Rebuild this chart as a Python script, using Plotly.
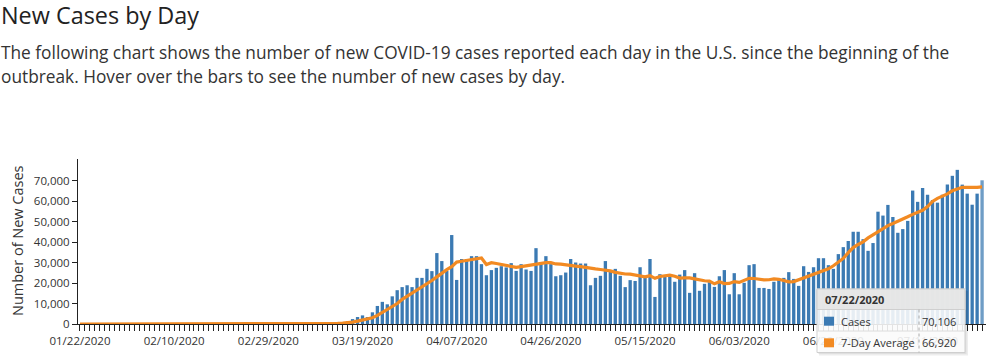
import pandas as pd
import plotly.graph_objects as go

START_DATE = "2020-01-22"
N_DAYS = 183

# Daily new cases (01/22/2020 .. 07/22/2020)
cases = [
    0, 0, 1, 0, 3, 0, 0, 0, 0, 2, 1, 0, 3, 0, 0, 0, 0, 0, 0, 0,
    1, 0, 1, 0, 0, 0, 0, 0, 0, 0, 0, 0, 0, 1, 0, 0, 1, 3, 5,
    8, 20, 25, 30, 60, 70, 100, 120, 160, 250, 310, 420, 530, 700, 900, 1300,
    2400, 3400, 4200, 3400, 5700, 8800, 10800, 9600, 13500, 16500, 18000, 18900, 18000, 22500, 22500,
    26900, 25800, 34600, 30700, 25900, 43400, 21500, 31700, 31700, 33100, 33100, 29200, 23800, 26300, 27400,
    28200, 27600, 29700, 25900, 29200, 26600, 25900, 37000, 29900, 33100, 29200, 23300, 23800, 25100, 31700,
    30000, 29500, 29500, 18900, 22500, 23500, 30700, 25400, 26900, 23500, 18000, 21400, 21000, 27700, 22500,
    31700, 13200, 24300, 23200,
    23300, 20600, 24100, 26300, 15200, 24800, 16200, 19600, 20400, 18100, 23300, 26300, 14500, 24800, 14500,
    20100, 28700, 29200, 17600, 17600, 17100, 20600, 22000, 22500, 25300, 22000, 18600, 28200, 25400, 27700,
    32100, 32100, 28700, 26900, 34100, 37500, 40500, 45000, 45000, 41400, 35700, 39500, 54800, 52900, 58100,
    52200, 44500, 46300, 50300, 65100, 59600, 66400, 63100, 60500, 59200, 63100, 68000, 72300, 75200, 68000,
    63600, 58200, 63600, 70106,
]

# 7-day average line
avg7 = [
    0, 0, 0, 0, 0, 0, 0, 0, 0, 0, 0, 0, 0, 0, 0, 0, 0, 0, 0, 0,
    0, 0, 0, 0, 0, 0, 0, 0, 0, 0, 0, 0, 0, 0, 0, 0, 0, 0, 0,
    2, 5, 8, 12, 20, 30, 45, 60, 80, 110, 150,
    200, 270, 360, 470, 620, 900, 1380, 1920, 2330, 3040, 4170, 5530, 7000, 8500, 10000,
    12000, 13500, 15000, 16500, 18000, 19600, 21200, 23000, 25000, 26500, 28000, 30200, 30600, 31000, 31500,
    31800, 32200, 29000, 29900, 29500, 29000, 28300, 27900, 27600, 28000, 28400, 28600, 29000, 29500, 29900,
    29900, 29300, 29200, 28800, 28300, 28200, 28000, 27500, 27100, 26900, 26600, 26300, 25900, 25200, 24600,
    24400, 24300, 23800, 23300, 23000, 23600, 22300, 23200, 23500, 23800, 23300, 22400, 22500, 22500, 22000,
    21400, 21100, 20900, 19600, 20600, 19700, 19800, 20700, 20300, 21200, 22300, 22200, 21800, 21500, 21600,
    22000, 21800, 21000, 20600, 20700, 21600, 22600, 23300, 24500, 25200, 25900, 26900, 28400, 30000, 32000,
    34800, 37300, 38800, 40100, 42000, 43500, 45000, 46700, 48000, 49000, 50000, 51000, 52300, 53500, 54300,
    55500, 57300, 59800, 61300, 62300, 63500, 65000, 66000, 66700, 66700, 66600, 66700, 66920,
]

Y_TICKS = [0, 10000, 20000, 30000, 40000, 50000, 60000, 70000]

HEADING = "New Cases by Day"
PARA_1 = ("The following chart shows the number of new COVID-19 cases reported each day in the U.S. "
          "since the beginning of the")
PARA_2 = "outbreak. Hover over the bars to see the number of new cases by day."

dates = pd.date_range(START_DATE, periods=N_DAYS)

BAR = "#3b7ab3"
BAR_HOVER = "#6f9dc6"
ORANGE = "#f28a22"
FONT = "Open Sans, Segoe UI, sans-serif"

W, H = 989, 363
L, R, T, B = 78, 3, 159, 39
PW, PH = W - L - R, H - T - B


def px(x):
    return (x - L) / PW


def py(y):
    return (H - B - y) / PH


bar_colors = [BAR] * (N_DAYS - 1) + [BAR_HOVER]

fig = go.Figure()
fig.add_trace(go.Bar(x=dates, y=cases, name="Cases", marker=dict(color=bar_colors, line=dict(width=0))))
fig.add_trace(go.Scatter(x=dates, y=avg7, name="7-Day Average", mode="lines",
                         line=dict(color=ORANGE, width=3.2)))

day_ms = 86400000
x0 = dates[0] - pd.Timedelta(hours=9.6)
x1 = dates[-1] + pd.Timedelta(hours=19)

fig.update_layout(
    width=W, height=H,
    margin=dict(l=L, r=R, t=T, b=B),
    paper_bgcolor="white", plot_bgcolor="white",
    showlegend=False,
    bargap=0.33,
    font=dict(family=FONT, color="#333"),
    xaxis=dict(
        type="date", range=[x0, x1],
        tick0=START_DATE, dtick=19 * day_ms, tickformat="%m/%d/%Y",
        ticks="outside", ticklen=6, tickcolor="#222", tickwidth=1,
        minor=dict(dtick=day_ms, tick0=START_DATE, ticks="outside", ticklen=6, tickcolor="#222", tickwidth=1),
        showline=True, linecolor="#222", linewidth=1,
        showgrid=False, zeroline=False,
        tickfont=dict(size=11.5, color="#333"),
    ),
    yaxis=dict(
        range=[0, 80500], tickvals=Y_TICKS, tickformat=",d",
        ticks="outside", ticklen=5, tickcolor="#222",
        showline=True, linecolor="#222", linewidth=1,
        showgrid=False, zeroline=False,
        tickfont=dict(size=11.5, color="#333"),
    ),
)

ann = []
ann.append(dict(text=HEADING, x=px(-1), y=py(15), xanchor="left", yanchor="middle",
                font=dict(size=23.4, color="#222", family=FONT)))
ann.append(dict(text=PARA_1, x=px(-1), y=py(52), xanchor="left", yanchor="middle",
                font=dict(size=17.3, color="#333", family=FONT)))
ann.append(dict(text=PARA_2, x=px(-1), y=py(77), xanchor="left", yanchor="middle",
                font=dict(size=17.3, color="#333", family=FONT)))
ann.append(dict(text="Number of New Cases", x=px(17), y=py(241), textangle=-90,
                xanchor="center", yanchor="middle", font=dict(size=14.5, color="#333", family=FONT)))

# Tooltip
tx0, tx1, ty0, ty1 = 817, 965, 289, 352.5
hdr = 309.5
mid = 331
sep = 919
shapes = [
    dict(type="rect", x0=px(tx0 + 2), x1=px(tx1 + 3), y0=py(ty0 + 2), y1=py(ty1 + 3),
         fillcolor="rgba(0,0,0,0.07)", line=dict(width=0)),
    dict(type="rect", x0=px(tx0 + 1), x1=px(tx1 + 1.5), y0=py(ty0 + 1), y1=py(ty1 + 1.5),
         fillcolor="rgba(0,0,0,0.06)", line=dict(width=0)),
    dict(type="rect", x0=px(tx0), x1=px(tx1), y0=py(ty0), y1=py(ty1),
         fillcolor="rgba(255,255,255,0.88)", line=dict(color="#cfcfcf", width=1)),
    dict(type="rect", x0=px(tx0), x1=px(tx1), y0=py(ty0), y1=py(hdr),
         fillcolor="rgba(228,228,228,0.9)", line=dict(color="#cfcfcf", width=1)),
    dict(type="line", x0=px(tx0), x1=px(tx1), y0=py(mid), y1=py(mid),
         line=dict(color="#dcdcdc", width=1)),
    dict(type="line", x0=px(sep), x1=px(sep), y0=py(hdr), y1=py(ty1),
         line=dict(color="#aaaaaa", width=1, dash="dot")),
    dict(type="rect", x0=px(824), x1=px(834), y0=py(316.7), y1=py(325.7),
         fillcolor=BAR, line=dict(width=0)),
    dict(type="rect", x0=px(824), x1=px(834), y0=py(338.3), y1=py(347.3),
         fillcolor=ORANGE, line=dict(width=0)),
]
for s in shapes:
    s.update(xref="paper", yref="paper", layer="above")

tfont = dict(size=11, color="#333", family=FONT)
ann.append(dict(text="<b>" + dates[-1].strftime("%m/%d/%Y") + "</b>", x=px(822.5), y=py(299.5),
                xanchor="left", yanchor="middle", font=tfont))
ann.append(dict(text="Cases", x=px(838.5), y=py(321.5), xanchor="left", yanchor="middle", font=tfont))
ann.append(dict(text=f"{cases[-1]:,}", x=px(957.5), y=py(321.5), xanchor="right", yanchor="middle", font=tfont))
ann.append(dict(text="7-Day Average", x=px(838.5), y=py(342.5), xanchor="left", yanchor="middle", font=tfont))
ann.append(dict(text=f"{avg7[-1]:,}", x=px(957.5), y=py(342.5), xanchor="right", yanchor="middle", font=tfont))

for a in ann:
    a.update(xref="paper", yref="paper", showarrow=False)

fig.update_layout(annotations=ann, shapes=shapes)

fig.write_html("out.html", config={"displayModeBar": False},
               post_script="document.body.style.margin='0';document.body.style.overflow='hidden';")
